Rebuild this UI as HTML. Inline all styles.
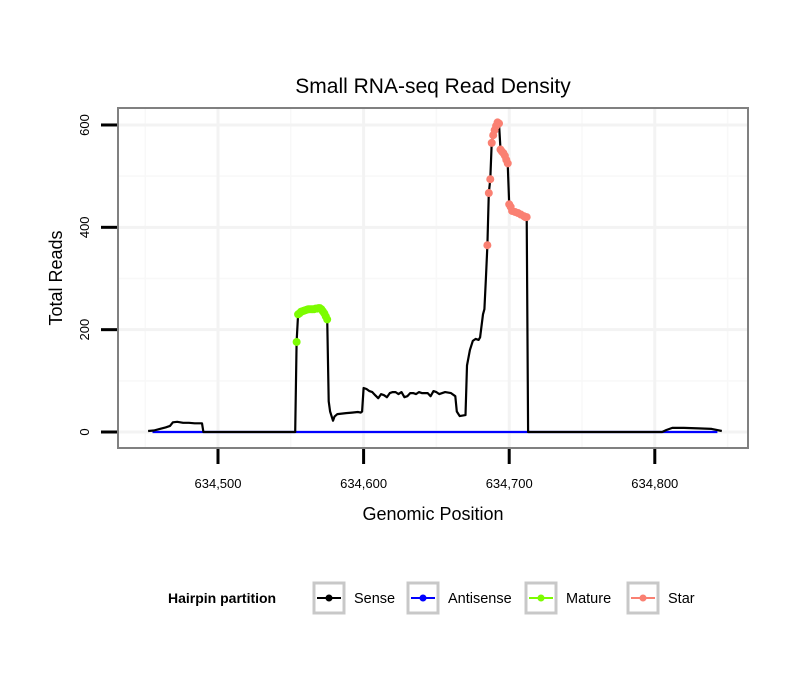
<!DOCTYPE html>
<html><head><meta charset="utf-8"><style>
body{margin:0;background:#fff;font-family:"Liberation Sans",sans-serif}
svg text{font-family:"Liberation Sans",sans-serif}
</style></head><body>
<svg id="chart" width="810" height="690">
<text x="433" y="93" text-anchor="middle" font-size="21">Small RNA-seq Read Density</text>
<rect x="118" y="108" width="630" height="340" fill="#fff"/>
<g id="grid"></g>
<g id="series"></g>
<rect x="118" y="108" width="630" height="340" fill="none" stroke="#808080" stroke-width="2"/>
<g id="axes"></g>
<text x="433" y="520" text-anchor="middle" font-size="18">Genomic Position</text>
<text transform="translate(62,278) rotate(-90)" text-anchor="middle" font-size="18">Total Reads</text>
<g>
<text x="168" y="603" font-size="14" font-weight="bold">Hairpin partition</text>
<g id="legend"></g>
</g>
</svg>
<script>
const xTicks=[634500,634600,634700,634800];
const xTickLabels=["634,500","634,600","634,700","634,800"];
const yTicks=[0,200,400,600];
const sensePos=[634452,634456,634460,634464,634467,634469,634472,634476,634480,634484,634489,634490,634553,634554,634555,634557,634560,634563,634566,634569,634572,634574,634575,634576,634577,634579,634580,634582,634585,634588,634592,634596,634598,634599,634600,634602,634604,634606,634608,634610,634612,634614,634616,634618,634620,634622,634624,634626,634628,634630,634632,634634,634636,634638,634640,634644,634646,634648,634650,634652,634656,634660,634663,634664,634666,634668,634670,634671,634673,634675,634677,634679,634680,634682,634683,634684,634685,634686,634687,634688,634689,634690,634691,634692,634693,634694,634695,634696,634697,634698,634699,634700,634701,634702,634704,634706,634708,634710,634711,634712,634713,634805,634808,634812,634820,634830,634839,634846];
const senseVal=[2,3,6,9,12,19,20,18,18,17,17,0,0,176,230,235,238,240,240,242,240,232,222,60,40,22,30,35,36,37,38,39,38,40,86,84,80,78,72,66,74,72,68,76,78,78,74,78,68,70,76,76,74,78,76,76,70,80,78,74,78,76,70,40,31,32,33,130,160,178,182,180,185,230,240,300,365,467,494,565,580,590,598,605,603,552,548,545,540,532,525,445,440,432,430,428,425,422,420,420,0,0,4,8,8,7,6,2];
const antiPos=[634455,634843];
const antiVal=[0,0];
const maturePos=[634554,634555,634556,634557,634558,634559,634560,634561,634562,634563,634564,634565,634566,634567,634568,634569,634570,634571,634572,634573,634574,634575];
const matureVal=[176,230,232,235,236,237,238,239,240,240,240,240,240,241,241,242,242,240,236,232,226,220];
const starPos=[634685,634686,634687,634688,634689,634690,634691,634692,634693,634694,634695,634696,634697,634698,634699,634700,634701,634702,634704,634706,634708,634710,634711,634712];
const starVal=[365,467,494,565,580,590,598,605,603,552,548,545,540,532,525,445,440,432,430,428,425,422,420,420];
const legendNames=["Sense","Antisense","Mature","Star"];
const legendColors=["#000000","#0000ff","#7cfc00","#fa8072"];

const NS="http://www.w3.org/2000/svg";
const xs=v=>218+(v-634500)*1.456;
const ys=v=>432-v*0.5117;
function mk(tag,attrs,parent){const e=document.createElementNS(NS,tag);for(const k in attrs)e.setAttribute(k,attrs[k]);parent.appendChild(e);return e;}
const grid=document.getElementById('grid'),series=document.getElementById('series'),axes=document.getElementById('axes'),legend=document.getElementById('legend');
const minorX=xTicks.map(t=>t-50).concat([xTicks[xTicks.length-1]+50]);
minorX.forEach(m=>{
 const l=mk('line',{x1:xs(m),x2:xs(m),y1:108,y2:448,stroke:'#f8f8f8','stroke-width':1.5},grid);
 
});
yTicks.forEach(t=>{
 const v=t+100;
 if(ys(v)<110) return;
 const l=mk('line',{x1:118,x2:748,y1:ys(v),y2:ys(v),stroke:'#f8f8f8','stroke-width':1.5},grid);
 
});
xTicks.forEach((t,i)=>{
 const g=mk('line',{x1:xs(t),x2:xs(t),y1:108,y2:448,stroke:'#f3f3f3','stroke-width':3},grid);
 
 const tk=mk('line',{x1:xs(t),x2:xs(t),y1:449,y2:464,stroke:'#000','stroke-width':3},axes);
 
 const tx=mk('text',{x:xs(t),y:488,'text-anchor':'middle','font-size':13},axes);tx.textContent=xTickLabels[i];
 
});
yTicks.forEach(t=>{
 const g=mk('line',{x1:118,x2:748,y1:ys(t),y2:ys(t),stroke:'#f3f3f3','stroke-width':3},grid);
 
 const tk=mk('line',{x1:101,x2:117,y1:ys(t),y2:ys(t),stroke:'#000','stroke-width':3},axes);
 
 const tx=mk('text',{transform:`translate(89,${ys(t)}) rotate(-90)`,'text-anchor':'middle','font-size':13},axes);tx.textContent=t;
 
});
function line(P,V,color,name){
 const d=P.map((p,i)=>(i?'L':'M')+xs(p).toFixed(1)+','+ys(V[i]).toFixed(1)).join('');
 const e=mk('path',{d:d,fill:'none',stroke:color,'stroke-width':2.2,'stroke-linejoin':'round'},series);
 
}
function pts(P,V,color,name){
 P.forEach((p,i)=>{const c=mk('circle',{cx:xs(p),cy:ys(V[i]),r:4,fill:color},series);
 });
}
line(antiPos,antiVal,'#0000ff','antisense-line');
line(sensePos,senseVal,'#000','sense-line');
pts(maturePos,matureVal,'#7cfc00','mature-point');
pts(starPos,starVal,'#fa8072','star-point');
const lx=[314,408,526,628];
legendNames.forEach((n,i)=>{
 const g=mk('g',{},legend);
 
 mk('rect',{x:lx[i],y:583,width:30,height:30,fill:'#fff',stroke:'#c8c8c8','stroke-width':3},g);
 mk('line',{x1:lx[i]+3,x2:lx[i]+27,y1:598,y2:598,stroke:legendColors[i],'stroke-width':2},g);
 mk('circle',{cx:lx[i]+15,cy:598,r:3.5,fill:legendColors[i]},g);
 const t=mk('text',{x:lx[i]+40,y:603,'font-size':14.5},g);t.textContent=n;
});
</script>
</body></html>
